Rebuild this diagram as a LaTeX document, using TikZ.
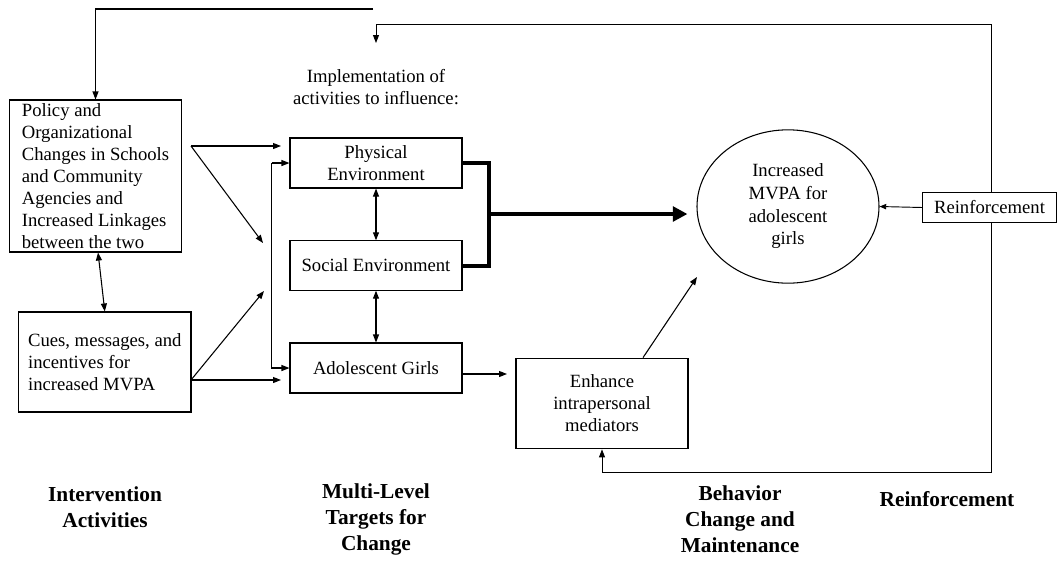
\documentclass[tikz,border=0pt]{standalone}
\usepackage{fontspec}
\setmainfont{Liberation Serif}
\usetikzlibrary{arrows.meta,shapes.geometric,calc}
\begin{document}
\begin{tikzpicture}[x=0.75pt,y=-0.75pt,
  box/.style={draw,line width=0.8pt,inner sep=0pt,font=\fontsize{14}{16.5}\selectfont},
  lbl/.style={align=center,font=\fontsize{16}{19.5}\selectfont\bfseries},
  arr/.style={line width=0.8pt,-{Triangle[length=6pt,width=4.5pt]}},
  darr/.style={line width=0.8pt,{Triangle[length=6pt,width=4.5pt]}-{Triangle[length=6pt,width=4.5pt]}},
  fb/.style={line width=0.7pt},
  bold/.style={line width=3pt}]
\useasboundingbox (0,0) rectangle (1058,562);

% boxes
\node[box,minimum width=129pt,minimum height=114pt,align=left] (policy) at (95.5,176)
  {Policy and\\Organizational\\Changes in Schools\\and Community\\Agencies and\\Increased Linkages\\between the two};
\node[box,minimum width=129.3pt,minimum height=75pt,align=left] (cues) at (104.8,362)
  {Cues, messages, and\\incentives for\\increased MVPA};
\node[align=center,font=\fontsize{14}{17}\selectfont] (impl) at (376,87) {Implementation of\\activities to influence:};
\node[box,minimum width=129pt,minimum height=37.5pt,align=center] (phys) at (376,163) {Physical\\Environment};
\node[box,minimum width=129pt,minimum height=37pt,align=center] (soc) at (376,265.5) {Social Environment};
\node[box,minimum width=129pt,minimum height=37.5pt,align=center] (adol) at (376,368) {Adolescent Girls};
\node[box,minimum width=129pt,minimum height=68pt,align=center] (enh) at (602,403.5) {Enhance\\intrapersonal\\mediators};
\node[box,ellipse,minimum width=136.5pt,minimum height=115pt,align=center,font=\fontsize{14}{17}\selectfont] (goal) at (788,206.5)
  {Increased\\MVPA for\\adolescent\\girls};

% coordinates
\coordinate (t1) at (373,9);
\coordinate (t2) at (376,43);
\coordinate (rc) at (991,24);
\coordinate (rb) at (991,472);
\coordinate (bj) at (489,214);
\coordinate (pa) at (191,146);
\coordinate (p1) at (281,146);
\coordinate (p2) at (263,243);
\coordinate (ca) at (191,380);
\coordinate (c1) at (264,291);
\coordinate (c2) at (281,380);
\coordinate (vt) at (271.5,163);
\coordinate (vb) at (271.5,368);
\coordinate (ae) at (507,374);
\coordinate (eg) at (697,277);

% feedback loops
\draw[arr] (t1) -| (policy.north);
\draw[arr,fb] (rc) -| (t2);
\draw[arr,fb] (rc) -- (rb) -| (enh.south);

% intervention arrows
\draw[arr] (pa) -- (p1);
\draw[arr] (pa) -- (p2);
\draw[arr] (ca) -- (c1);
\draw[arr] (ca) -- (c2);
\draw[darr] ([xshift=1.9pt]policy.south) -- (cues.north);

% bracket into targets
\draw[arr] (vt) -- (phys.west);
\draw[arr] (vt) -- (vb) -- (adol.west);

% between targets
\draw[darr] (phys.south) -- (soc.north);
\draw[darr] (soc.south) -- (adol.north);

% bold connector
\draw[bold] (phys.east) -| (bj |- soc.east) -- (soc.east);
\draw[bold,-{Triangle[length=11pt,width=11pt]}] (bj |- phys.east) -- (bj) -- ($(bj -| goal.west)+(-9,0)$);

% behaviour
\draw[arr] (adol.east |- ae) -- (ae);
\draw[arr] ([xshift=30.75pt]enh.north) -- (eg);

% reinforcement box
\node[box,fill=white,minimum width=100pt,minimum height=22pt] (reinf) at (989.5,207.5) {Reinforcement};
\draw[fb,-{Triangle[length=5pt,width=4pt]}] (reinf.west) -- (goal.east);

% column labels
\node[lbl] (l1) at (105,507) {Intervention\\Activities};
\node[lbl] (l2) at (376,519) {Multi-Level\\Targets for\\Change};
\node[lbl] (l3) at (740,519) {Behavior\\Change and\\Maintenance};
\node[lbl] (l4) at (947,499) {Reinforcement};
\end{tikzpicture}
\end{document}
